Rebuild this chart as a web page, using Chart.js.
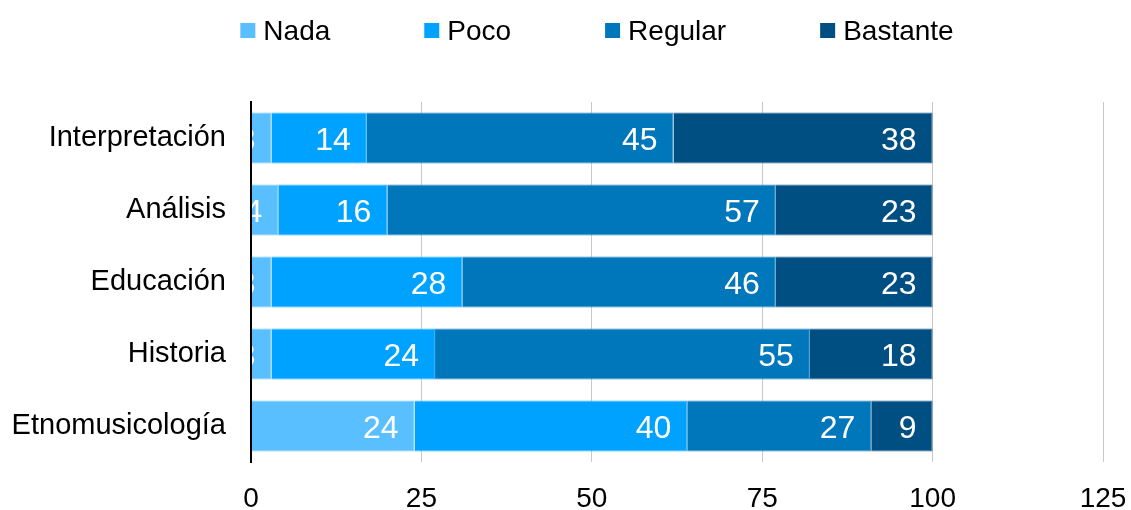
<!DOCTYPE html>
<html>
<head>
<meta charset="utf-8">
<title>Valoración por área</title>
<script src="https://cdn.jsdelivr.net/npm/chart.js@4.4.1/dist/chart.umd.min.js"></script>
<style>
  html, body { margin: 0; padding: 0; background: #ffffff; }
  canvas { display: block; }
</style>
</head>
<body>
<canvas id="areasChart" width="1131" height="510"></canvas>
<script>
// Categories and the four answer levels (percent of responses)
const categories = ['Interpretación', 'Análisis', 'Educación', 'Historia', 'Etnomusicología'];
const seriesNames = ['Nada', 'Poco', 'Regular', 'Bastante'];
const nada = [3, 4, 3, 3, 24];
const poco = [14, 16, 28, 24, 40];
const regular = [45, 57, 46, 55, 27];
const bastante = [38, 23, 23, 18, 9];
const xTicks = [0, 25, 50, 75, 100, 125];

const seriesColors = ['#59BFFF', '#00A2FF', '#0077BA', '#004F82'];
// slightly lighter edge for each segment
const edgeColors = ['#75C9FF', '#2EB1FF', '#2E8AC4', '#2F6A94'];
const FONT = '"Liberation Sans", Arial, sans-serif';

// Legend drawn across the top: small square + name, evenly spaced
const topLegend = {
    id: 'topLegend',
    afterDraw(chart) {
        const ctx = chart.ctx;
        const box = 15, gap = 8, spacing = 94, centerX = 597;
        ctx.save();
        ctx.font = '28px ' + FONT;
        const items = chart.data.datasets.map(ds => ({
            text: ds.label,
            color: ds.backgroundColor,
            w: ctx.measureText(ds.label).width
        }));
        const total = items.reduce((s, it) => s + box + gap + it.w, 0) + spacing * (items.length - 1);
        let x = centerX - total / 2;
        ctx.textBaseline = 'alphabetic';
        ctx.textAlign = 'left';
        items.forEach(it => {
            ctx.fillStyle = it.color;
            ctx.fillRect(x, 23, box, box);
            ctx.fillStyle = '#000000';
            ctx.fillText(it.text, x + box + gap, 40);
            x += box + gap + it.w + spacing;
        });
        ctx.restore();
    }
};

// White value labels, right-aligned inside the end of each segment
const segmentLabels = {
    id: 'segmentLabels',
    afterDatasetsDraw(chart) {
        const ctx = chart.ctx;
        const area = chart.chartArea;
        ctx.save();
        ctx.beginPath();
        ctx.rect(area.left - 5, area.top, area.right - area.left + 5, area.bottom - area.top);
        ctx.clip();
        ctx.font = '32px ' + FONT;
        ctx.fillStyle = '#ffffff';
        ctx.textAlign = 'right';
        ctx.textBaseline = 'alphabetic';
        chart.data.datasets.forEach((ds, i) => {
            const meta = chart.getDatasetMeta(i);
            meta.data.forEach((bar, j) => {
                ctx.fillText(String(ds.data[j]), bar.x - 16, bar.y + 11.5);
            });
        });
        ctx.restore();
    }
};

const seriesValues = [nada, poco, regular, bastante];

new Chart(document.getElementById('areasChart'), {
    type: 'bar',
    data: {
        labels: categories,
        datasets: seriesNames.map((name, i) => ({
            label: name,
            data: seriesValues[i],
            backgroundColor: seriesColors[i],
            borderColor: edgeColors[i],
            borderWidth: 1,
            borderSkipped: 'start',
            barPercentage: 1,
            categoryPercentage: 0.708
        }))
    },
    options: {
        indexAxis: 'y',
        responsive: false,
        animation: false,
        layout: { padding: { top: 102, right: 28, left: 0, bottom: 0 } },
        plugins: {
            legend: { display: false },
            tooltip: { enabled: false }
        },
        scales: {
            x: {
                stacked: true,
                min: 0,
                max: 125,
                afterBuildTicks: scale => { scale.ticks = xTicks.map(v => ({ value: v })); },
                afterFit: scale => {
                    scale.height = 48;
                    scale.paddingLeft = 0;
                    scale.paddingRight = 0;
                },
                grid: { color: '#C8C8C8', lineWidth: 1, drawTicks: false },
                border: { display: false },
                ticks: {
                    color: '#000000',
                    font: { family: FONT, size: 28 },
                    padding: 20
                }
            },
            y: {
                stacked: true,
                afterFit: scale => { scale.width = 251; },
                grid: { display: false, drawTicks: false },
                border: { display: true, color: '#000000', width: 2, z: 1 },
                ticks: {
                    color: '#000000',
                    font: { family: FONT, size: 29 },
                    padding: 25
                }
            }
        }
    },
    plugins: [segmentLabels, topLegend]
});
</script>
</body>
</html>
